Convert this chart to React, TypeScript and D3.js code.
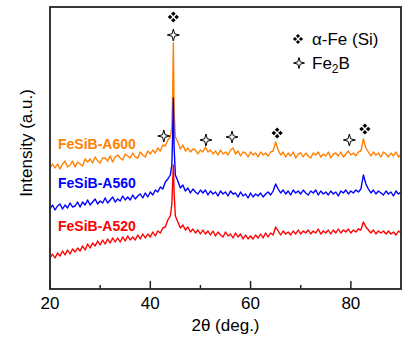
import React from "react";
import * as d3 from "d3";

// 2θ grid (deg.)
const twoTheta: number[] = [
  20, 20.5, 21, 21.5, 22, 22.5, 23, 23.5, 24, 24.5, 25, 25.5, 26, 26.5, 27, 27.5, 28, 28.5, 29, 29.5,
  30, 30.5, 31, 31.5, 32, 32.5, 33, 33.5, 34, 34.5, 35, 35.5, 36, 36.5, 37, 37.5, 38, 38.5, 39, 39.5,
  40, 40.5, 41, 41.5, 42, 42.5, 43, 43.5, 44, 44.3, 44.45, 44.6, 44.75,
  45, 45.5, 46, 46.5, 47, 47.5, 48, 48.5, 49, 49.5, 50, 50.5, 51, 51.5, 52, 52.5, 53, 53.5, 54, 54.5,
  55, 55.5, 56, 56.5, 57, 57.5, 58, 58.5, 59, 59.5, 60, 60.5, 61, 61.5, 62, 62.5, 63, 63.5, 64, 64.5,
  65, 65.5, 66, 66.5, 67, 67.5, 68, 68.5, 69, 69.5, 70, 70.5, 71, 71.5, 72, 72.5, 73, 73.5, 74, 74.5,
  75, 75.5, 76, 76.5, 77, 77.5, 78, 78.5, 79, 79.5, 80, 80.5, 81, 81.5, 82, 82.5, 83, 83.5, 84, 84.5,
  85, 85.5, 86, 86.5, 87, 87.5, 88, 88.5, 89, 89.5, 90,
];

// Intensity (a.u., offset as in the figure)
const a600: number[] = [
  121, 125, 121, 125, 120, 125, 128, 122, 124, 128, 122, 127, 125, 123, 130, 127, 130, 126, 132, 128,
  126, 131, 131, 128, 133, 127, 132, 134, 131, 129, 135, 133, 131, 136, 132, 131, 137, 134, 132, 138,
  135, 139, 136, 141, 138, 144, 143, 149, 152, 162, 192, 246, 178,
  152, 147, 140, 144, 138, 141, 137, 140, 139, 135, 139, 137, 142, 137, 139, 135, 138, 134, 139, 135,
  137, 134, 139, 141, 135, 138, 133, 137, 136, 132, 137, 134, 136, 132, 137, 134, 136, 133, 137, 138,
  147, 139, 134, 137, 132, 136, 133, 137, 131, 135, 136, 132, 136, 133, 131, 136, 134, 137, 132, 135,
  133, 137, 131, 135, 136, 133, 137, 132, 135, 138, 134, 136, 133, 137, 138, 150, 141, 137, 133, 137,
  134, 136, 132, 137, 135, 132, 136, 133, 137, 132, 135,
];

const a560: number[] = [
  80, 84, 79, 83, 85, 80, 84, 81, 86, 82, 83, 87, 82, 87, 84, 89, 84, 87, 90, 85,
  88, 86, 91, 86, 89, 92, 87, 90, 88, 93, 89, 92, 89, 94, 90, 93, 95, 91, 96, 92,
  97, 94, 99, 97, 102, 100, 107, 110, 114, 124, 152, 191, 142,
  114, 108, 101, 104, 98, 101, 96, 100, 97, 95, 99, 96, 99, 94, 98, 95, 97, 93, 98, 95,
  97, 93, 98, 95, 96, 92, 97, 93, 95, 91, 96, 92, 95, 93, 96, 92, 95, 97, 94, 98,
  105, 100, 96, 99, 95, 98, 94, 99, 96, 98, 95, 99, 96, 94, 98, 96, 99, 94, 98, 95,
  97, 94, 98, 95, 97, 93, 98, 96, 99, 95, 98, 96, 99, 97, 100, 114, 105, 100, 96, 99,
  95, 98, 96, 94, 98, 95, 97, 93, 98, 95, 97,
];

const a520: number[] = [
  31, 35, 31, 36, 33, 38, 34, 39, 35, 40, 37, 41, 38, 43, 39, 45, 41, 46, 43, 48,
  44, 49, 45, 50, 46, 51, 47, 51, 47, 52, 48, 53, 49, 52, 49, 54, 50, 55, 51, 55,
  52, 57, 53, 58, 56, 61, 62, 69, 73, 85, 106, 124, 96,
  73, 67, 61, 64, 59, 62, 57, 60, 56, 59, 55, 59, 55, 58, 54, 58, 53, 57, 54, 52,
  57, 53, 55, 51, 56, 52, 55, 50, 54, 50, 53, 50, 54, 51, 55, 51, 56, 52, 56, 54,
  62, 58, 54, 58, 55, 57, 54, 58, 55, 59, 55, 58, 56, 59, 55, 58, 56, 60, 55, 58,
  56, 59, 55, 59, 56, 60, 56, 59, 57, 60, 56, 59, 57, 60, 59, 67, 62, 59, 56, 59,
  55, 58, 56, 58, 55, 58, 55, 57, 54, 58, 56,
];

const seriesNames = ["FeSiB-A600", "FeSiB-A560", "FeSiB-A520"];
const seriesColors = ["#FF8000", "#0000FF", "#FF0000"];
const seriesData = [a600, a560, a520];
const labelValues = [140, 101, 58]; // baseline of each sample label, in intensity units

// Peak markers
const alphaFe2T = [44.6, 65.3, 82.8];
const alphaFeY = [272, 156, 160];
const fe2b2T = [44.6, 42.7, 51.1, 56.3, 79.7];
const fe2bY = [254, 153, 149, 152, 149];

const xTicks = [20, 40, 60, 80];
const xMinorTicks = [30, 50, 70];

const W = 417;
const H = 338;
const M = { left: 50, right: 401, top: 7, bottom: 289 };
const FONT = "'Liberation Sans', Arial, Helvetica, sans-serif";

function clover(cx: number, cy: number, off: number, r: number) {
  const pts = [
    [0, -off],
    [off, 0],
    [0, off],
    [-off, 0],
  ];
  return pts
    .map(([dx, dy]) => {
      const px = cx + dx;
      const py = cy + dy;
      return `M${px},${py - r}L${px + r},${py}L${px},${py + r}L${px - r},${py}Z`;
    })
    .join("");
}

function star4(cx: number, cy: number, R: number, r: number) {
  const pts: string[] = [];
  for (let i = 0; i < 8; i++) {
    const a = (Math.PI / 4) * i - Math.PI / 2;
    const rad = i % 2 === 0 ? R : r;
    pts.push(`${cx + rad * Math.cos(a)},${cy + rad * Math.sin(a)}`);
  }
  return "M" + pts.join("L") + "Z";
}

export default function App() {
  const x = d3.scaleLinear().domain([20, 90]).range([M.left, M.right]);
  const y = d3.scaleLinear().domain([0, 282]).range([M.bottom, M.top]);
  const line = d3
    .line<number>()
    .x((_, i) => x(twoTheta[i]))
    .y((d) => y(d));

  return (
    <svg width={W} height={H} style={{ position: "absolute", left: 0, top: 0, background: "#fff" }}>
      <rect x={0} y={0} width={W} height={H} fill="#fff" />
      {[0, 1, 2].map((k) => (
        <path
          key={k}
          d={line(seriesData[k]) || ""}
          fill="none"
          stroke={seriesColors[k]}
          strokeWidth={1.4}
          strokeLinejoin="round"
        />
      ))}
      {seriesNames.map((n, k) => (
        <text
          key={n}
          x={58}
          y={y(labelValues[k])}
          fill={seriesColors[k]}
          fontFamily={FONT}
          fontWeight="bold"
          fontSize={14}
        >
          {n}
        </text>
      ))}
      {alphaFe2T.map((t, i) => (
        <path key={"a" + i} d={clover(x(t), y(alphaFeY[i]), 3.3, 2.3)} fill="#000" />
      ))}
      {fe2b2T.map((t, i) => (
        <path
          key={"b" + i}
          d={star4(x(t), y(fe2bY[i]), 6, 1.8)}
          fill="#fff"
          stroke="#000"
          strokeWidth={1}
        />
      ))}
      {/* legend */}
      <path d={clover(298, 39, 3.0, 2.1)} fill="#000" />
      <text x={312} y={45} fontFamily={FONT} fontSize={17} fill="#000">
        α-Fe (Si)
      </text>
      <path d={star4(299, 63, 5.5, 1.7)} fill="#fff" stroke="#000" strokeWidth={1} />
      <text x={312} y={69} fontFamily={FONT} fontSize={17} fill="#000">
        Fe
        <tspan fontSize={12} dy={4}>
          2
        </tspan>
        <tspan dy={-4}>B</tspan>
      </text>
      {/* axes frame */}
      {xTicks.map((t) => (
        <line key={"t" + t} x1={x(t)} x2={x(t)} y1={M.bottom} y2={M.bottom - 8} stroke="#222" strokeWidth={1.5} />
      ))}
      {xMinorTicks.map((t) => (
        <line key={"m" + t} x1={x(t)} x2={x(t)} y1={M.bottom} y2={M.bottom - 4} stroke="#222" strokeWidth={1.5} />
      ))}
      <rect
        x={M.left}
        y={M.top}
        width={M.right - M.left}
        height={M.bottom - M.top}
        fill="none"
        stroke="#222"
        strokeWidth={1.8}
      />
      {xTicks.map((t) => (
        <text key={"l" + t} x={x(t)} y={309} textAnchor="middle" fontFamily={FONT} fontSize={17} fill="#000">
          {t}
        </text>
      ))}
      <text x={(M.left + M.right) / 2} y={331} textAnchor="middle" fontFamily={FONT} fontSize={17} fill="#000">
        2θ (deg.)
      </text>
      <text
        transform={`translate(32,143) rotate(-90)`}
        textAnchor="middle"
        fontFamily={FONT}
        fontSize={17}
        fill="#000"
      >
        Intensity (a.u.)
      </text>
    </svg>
  );
}
